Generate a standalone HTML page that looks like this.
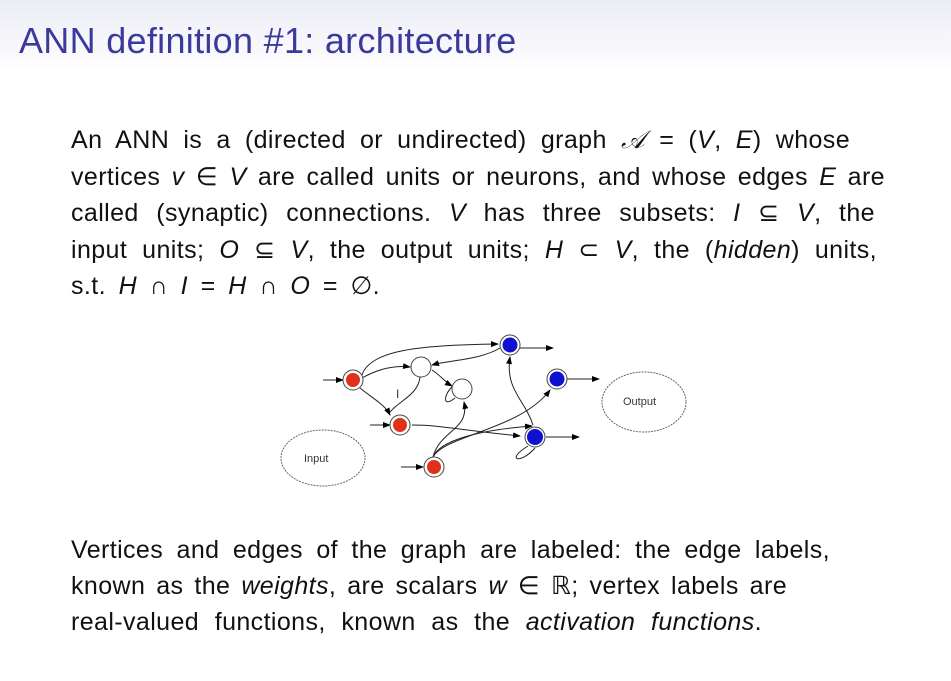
<!DOCTYPE html>
<html><head><meta charset="utf-8"><style>
body{margin:0;width:951px;height:681px;background:#fff;overflow:hidden;position:relative;font-family:"Liberation Sans","DejaVu Sans",sans-serif;color:#111}
.top{position:absolute;left:0;top:0;width:951px;height:75px;background:linear-gradient(#ececf6,#fff)}
.title{position:absolute;left:19px;top:20px;font-size:36px;color:#3a3a9c;white-space:nowrap;letter-spacing:0.3px}
.l{position:absolute;left:71px;font-size:25px;letter-spacing:0.4px;white-space:nowrap;text-align:justify;text-align-last:justify;line-height:28px}
i{font-style:italic}
</style></head><body>
<div class="top"></div>
<div class="title">ANN definition #1: architecture</div>
<div class="l" style="top:126px;width:779px">An ANN is a (directed or undirected) graph <i>𝒜</i> = (<i>V</i>, <i>E</i>) whose</div>
<div class="l" style="top:163px;width:814px">vertices <i>v</i> ∈ <i>V</i> are called units or neurons, and whose edges <i>E</i> are</div>
<div class="l" style="top:199px;width:804px">called (synaptic) connections. <i>V</i> has three subsets: <i>I</i> ⊆ <i>V</i>, the</div>
<div class="l" style="top:236px;width:806px">input units; <i>O</i> ⊆ <i>V</i>, the output units; <i>H</i> ⊂ <i>V</i>, the (<em>hidden</em>) units,</div>
<div class="l" style="top:272px;width:309px">s.t. <i>H</i> ∩ <i>I</i> = <i>H</i> ∩ <i>O</i> = ∅.</div>
<div class="l" style="top:536px;width:759px">Vertices and edges of the graph are labeled: the edge labels,</div>
<div class="l" style="top:572px;width:716px">known as the <em>weights</em>, are scalars <i>w</i> ∈ ℝ; vertex labels are</div>
<div class="l" style="top:608px;width:691px">real-valued functions, known as the <em>activation functions</em>.</div>
<svg style="position:absolute;left:0;top:0" width="951" height="681">
<defs><marker id="a" markerWidth="8" markerHeight="6" refX="7" refY="3" orient="auto"><path d="M0,0L8,3L0,6z" fill="#000"/></marker></defs>
<g fill="none" stroke="#222" stroke-width="1">
<path d="M323,380H343" marker-end="url(#a)"/>
<path d="M370,425H390" marker-end="url(#a)"/>
<path d="M401,467H423" marker-end="url(#a)"/>
<path d="M362,375C370,350 420,345 498,344" marker-end="url(#a)"/>
<path d="M362,378C380,368 395,365 410,367" marker-end="url(#a)"/>
<path d="M360,388C375,400 385,405 390,415" marker-end="url(#a)"/>
<path d="M420,377C418,395 400,400 390,412"/>
<path d="M500,348C480,360 450,360 432,365" marker-end="url(#a)"/>
<path d="M432,370C440,375 445,382 452,386" marker-end="url(#a)"/>
<path d="M455,398C440,410 445,390 455,385"/>
<path d="M412,425C440,425 460,430 520,436" marker-end="url(#a)"/>
<path d="M433,457C440,430 470,430 464,402" marker-end="url(#a)"/>
<path d="M433,457C440,440 480,430 532,426" marker-end="url(#a)"/>
<path d="M433,457C445,435 520,430 550,390" marker-end="url(#a)"/>
<path d="M533,425C525,400 505,390 510,357" marker-end="url(#a)"/>
<path d="M520,348H553" marker-end="url(#a)"/>
<path d="M566,379H599" marker-end="url(#a)"/>
<path d="M546,437H579" marker-end="url(#a)"/>
<path d="M528,446C505,460 520,465 535,448"/>
</g>
<g stroke="#444" stroke-width="1">
<circle cx="353" cy="380" r="10" fill="#fff"/><circle cx="353" cy="380" r="7" fill="#e0301a" stroke="none"/>
<circle cx="400" cy="425" r="10" fill="#fff"/><circle cx="400" cy="425" r="7" fill="#e0301a" stroke="none"/>
<circle cx="434" cy="467" r="10" fill="#fff"/><circle cx="434" cy="467" r="7" fill="#e0301a" stroke="none"/>
<circle cx="510" cy="345" r="10" fill="#fff"/><circle cx="510" cy="345" r="7.5" fill="#1010d0" stroke="none"/>
<circle cx="557" cy="379" r="10" fill="#fff"/><circle cx="557" cy="379" r="7.5" fill="#1010d0" stroke="none"/>
<circle cx="535" cy="437" r="10" fill="#fff"/><circle cx="535" cy="437" r="8" fill="#1010d0" stroke="none"/>
<circle cx="421" cy="367" r="10" fill="#fff"/>
<circle cx="462" cy="389" r="10" fill="#fff"/>
</g>
<g fill="#fff" stroke="#666" stroke-width="1" stroke-dasharray="2,1">
<ellipse cx="323" cy="458" rx="42" ry="28"/>
<ellipse cx="644" cy="402" rx="42" ry="30"/>
</g>
<text x="304" y="462" font-size="11" fill="#333">Input</text>
<text x="623" y="405" font-size="11" fill="#333">Output</text>
<text x="396" y="398" font-size="12" fill="#333">I</text>
</svg>
</body></html>
